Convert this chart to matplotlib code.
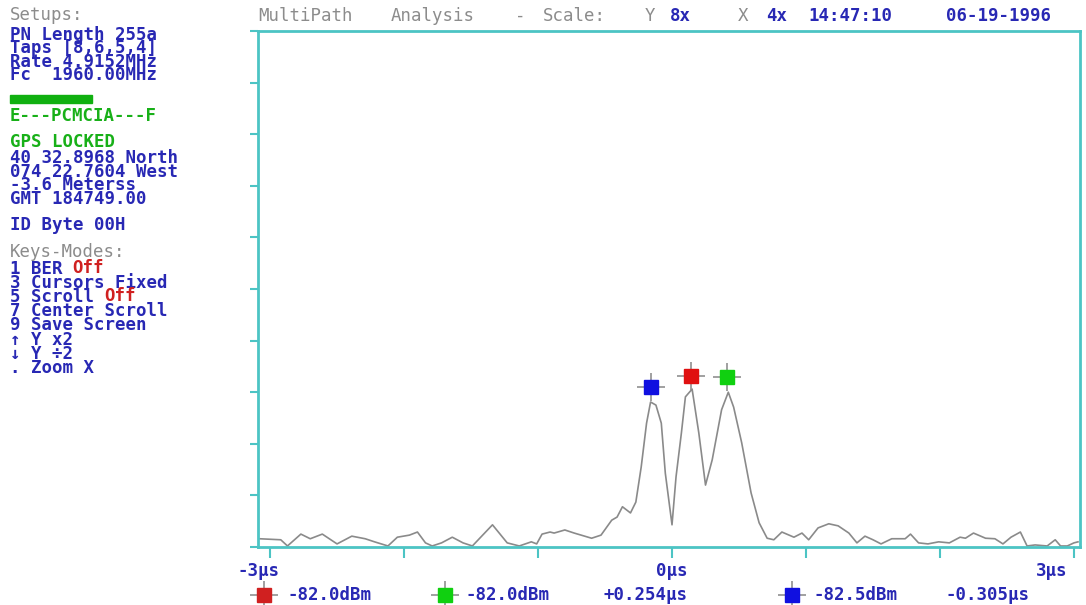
"""
MultiPath Analysis 屏幕复刻：PN 相关峰时延曲线 + 左侧状态面板。
"""

from __future__ import annotations

import matplotlib

matplotlib.use("Agg")
import matplotlib.pyplot as plt
import matplotlib as mpl

# 相关曲线（x: 时延 μs, y: 纵向格数 0-10）
delay_us = [
    -3.08, -2.92, -2.87, -2.77, -2.70, -2.61, -2.50, -2.39, -2.29, -2.22,
    -2.12, -2.05, -1.96, -1.90, -1.84, -1.79, -1.72, -1.64, -1.56, -1.49,
    -1.34, -1.23, -1.14, -1.05, -1.01, -0.97, -0.91, -0.88, -0.80, -0.73,
    -0.60, -0.53, -0.45, -0.41, -0.37, -0.31, -0.27, -0.23, -0.19, -0.16,
    -0.12, -0.08, -0.05, 0.00, 0.03, 0.07, 0.10, 0.15, 0.20, 0.25,
    0.30, 0.37, 0.42, 0.46, 0.52, 0.59, 0.65, 0.71, 0.76, 0.82,
    0.91, 0.97, 1.02, 1.09, 1.17, 1.24, 1.32, 1.38, 1.44, 1.50,
    1.56, 1.64, 1.74, 1.78, 1.84, 1.91, 1.99, 2.07, 2.15, 2.19,
    2.25, 2.34, 2.41, 2.47, 2.53, 2.60, 2.65, 2.71, 2.80, 2.86,
    2.90, 2.95, 3.00, 3.03,
]
level_div = [
    0.16, 0.14, 0.02, 0.25, 0.16, 0.25, 0.06, 0.21, 0.16, 0.10,
    0.02, 0.19, 0.23, 0.29, 0.08, 0.02, 0.08, 0.19, 0.08, 0.02,
    0.43, 0.08, 0.02, 0.10, 0.06, 0.25, 0.29, 0.27, 0.33, 0.27,
    0.17, 0.23, 0.52, 0.58, 0.78, 0.66, 0.87, 1.55, 2.40, 2.81,
    2.75, 2.40, 1.43, 0.43, 1.36, 2.21, 2.91, 3.06, 2.21, 1.20,
    1.69, 2.66, 3.00, 2.71, 2.02, 1.05, 0.47, 0.17, 0.14, 0.29,
    0.19, 0.27, 0.14, 0.37, 0.45, 0.41, 0.27, 0.08, 0.21, 0.14,
    0.06, 0.16, 0.16, 0.25, 0.08, 0.06, 0.10, 0.08, 0.19, 0.17,
    0.27, 0.17, 0.16, 0.06, 0.19, 0.29, 0.02, 0.04, 0.02, 0.14,
    0.02, 0.02, 0.08, 0.10,
]

# 光标（蓝、红、绿）
cursor_x = [-0.16, 0.14, 0.41]
cursor_y = [3.10, 3.31, 3.29]
cursor_colors = ["#1010e0", "#e01010", "#10d010"]

x_tick_labels = ["-3μs", "", "", "0μs", "", "", "3μs"]

setup_lines = ["PN Length 255a", "Taps [8,6,5,4]", "Rate 4.9152MHz", "Fc  1960.00MHz"]
gps_lines = ["40 32.8968 North", "074 22.7604 West", "-3.6 Meterss", "GMT 184749.00"]
key_lines = ["1 BER", "3 Cursors Fixed", "5 Scroll", "7 Center Scroll",
             "9 Save Screen", "↑ Y x2", "↓ Y ÷2", ". Zoom X"]
key_off = [True, False, True, False, False, False, False, False]

readouts = ["-82.0dBm", "-82.0dBm", "+0.254μs", "-82.5dBm", "-0.305μs"]

BLUE = "#2828b4"
GRAY = "#8c8c8c"
GREEN = "#18b018"
RED = "#d02020"
TEAL = "#4cc4c4"
W, H = 1086, 605
FS = 12.5
PITCH = 0.602 * FS * 100 / 72  # 等宽字体字符宽度（像素）
ASC = 0.76 * FS * 100 / 72     # 首行上沿到基线
LINE_A, LINE_D = 13.9, 4.1     # 行距 = linespacing * A + D（像素，实测）


def fx(px: float) -> float:
    return px / W


def fy(py: float) -> float:
    return 1 - py / H


def draw_text(fig, px, py, s, color, size=FS, weight="bold"):
    fig.text(fx(px), fy(py), s, color=color, fontsize=size, fontweight=weight,
             family=["DejaVu Sans Mono", "DejaVu Sans"], va="center", ha="left")


def draw_block(fig, px, py, lines, step, color):
    # 多行合成一个文本对象，py 为首行中心
    fig.text(fx(px), fy(py + 5 - ASC), "\n".join(lines), color=color, fontsize=FS,
             fontweight="bold", family=["DejaVu Sans Mono", "DejaVu Sans"],
             va="top", ha="left", linespacing=(step - LINE_D) / LINE_A)


def draw_cursor(ax, x, y, color, transform=None):
    kw = {} if transform is None else {"transform": transform, "clip_on": False}
    ax.plot([x], [y], marker="+", color="#909090", markersize=20, mew=1.2, **kw)
    ax.plot([x], [y], marker="s", color=color, markersize=10, **kw)


def main() -> None:
    mpl.rcParams["font.family"] = ["DejaVu Sans Mono", "DejaVu Sans"]
    fig = plt.figure(figsize=(W / 100, H / 100), dpi=100)
    ax = fig.add_axes([fx(258), fy(547), fx(1080) - fx(258), fy(31) - fy(547)])

    ax.plot(delay_us, level_div, color="#8a8a8a", linewidth=1.2)
    for x, y, c in zip(cursor_x, cursor_y, cursor_colors):
        draw_cursor(ax, x, y, c)

    ax.set_xlim(-3.09, 3.045)
    ax.set_ylim(0, 10)
    ax.set_xticks(range(-3, 4))
    ax.set_xticklabels(x_tick_labels)
    ax.set_yticks(range(0, 11))
    ax.set_yticklabels([])
    for s in ax.spines.values():
        s.set_color(TEAL)
        s.set_linewidth(2)
    ax.tick_params(axis="x", colors=TEAL, length=8, width=1.5, pad=3,
                   labelcolor=BLUE, labelsize=FS)
    ax.tick_params(axis="y", colors=TEAL, length=6, width=1.5)
    offsets = [-12, 0, 0, 0, 0, 0, -22]
    for lab, dx in zip(ax.get_xticklabels(), offsets):
        lab.set_fontweight("bold")
        lab.set_transform(lab.get_transform() + mpl.transforms.ScaledTranslation(dx / 100, 0, fig.dpi_scale_trans))

    # 顶部标题
    for px, s in zip([258, 391, 515, 543, 645], ["MultiPath", "Analysis", "-", "Scale:", "Y"]):
        draw_text(fig, px, 16, s, GRAY, weight="normal")
    draw_text(fig, 670, 16, "8x", BLUE)
    draw_text(fig, 738, 16, "X", GRAY, weight="normal")
    draw_text(fig, 766, 16, "4x", BLUE)
    draw_text(fig, 808, 16, "14:47:10", BLUE)
    draw_text(fig, 946, 16, "06-19-1996", BLUE)

    # 左侧面板
    draw_text(fig, 10, 15, "Setups:", GRAY, weight="normal")
    draw_block(fig, 10, 34, setup_lines, 13.4, BLUE)
    fig.patches.append(mpl.patches.Rectangle((fx(10), fy(103)), fx(82), fy(95) - fy(103),
                                             transform=fig.transFigure, color="#10b010"))
    draw_text(fig, 10, 116, "E---PCMCIA---F", GREEN)
    draw_text(fig, 10, 142, "GPS LOCKED", GREEN)
    draw_block(fig, 10, 157, gps_lines, 13.8, BLUE)
    draw_text(fig, 10, 225, "ID Byte 00H", BLUE)
    draw_text(fig, 10, 252, "Keys-Modes:", GRAY, weight="normal")
    draw_block(fig, 10, 268, key_lines, 14.2, BLUE)
    for i, (s, off) in enumerate(zip(key_lines, key_off)):
        if off:
            fig.text(fx(10 + (len(s) + 1) * PITCH), fy(268 + i * 14.2 + 5), "Off",
                     color=RED, fontsize=FS, fontweight="bold",
                     family=["DejaVu Sans Mono"], va="baseline", ha="left")

    # 底部读数
    leg_y = 595
    for px, c in zip([264, 445, 792], [RED, "#10d010", "#1010e0"]):
        draw_cursor(ax, fx(px), fy(leg_y), c, transform=fig.transFigure)
    for px, s in zip([287, 466, 604, 813, 945], readouts):
        draw_text(fig, px, leg_y, s, BLUE)

    fig.savefig("out.png", dpi=100)
    plt.close(fig)


if __name__ == "__main__":
    main()
